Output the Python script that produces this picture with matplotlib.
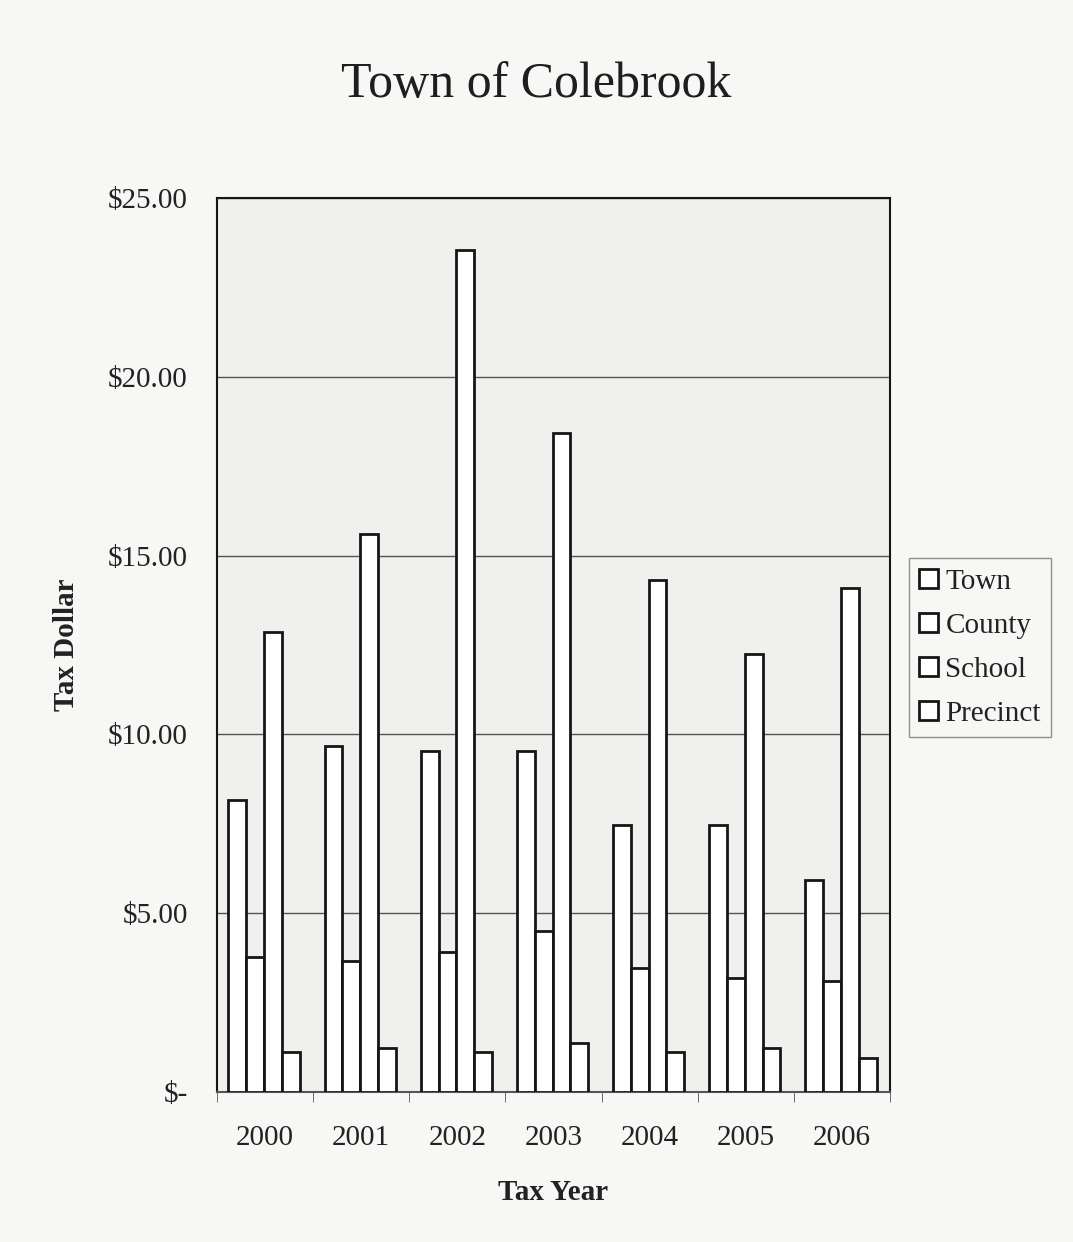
import numpy as np
import matplotlib.pyplot as plt
from matplotlib.ticker import FuncFormatter, FixedLocator

years = ['2000', '2001', '2002', '2003', '2004', '2005', '2006']
town = [8.17, 9.68, 9.54, 9.54, 7.47, 7.47, 5.93]
county = [3.78, 3.66, 3.91, 4.50, 3.47, 3.19, 3.10]
school = [12.86, 15.60, 23.55, 18.43, 14.32, 12.25, 14.09]
precinct = [1.12, 1.23, 1.12, 1.37, 1.12, 1.23, 0.95]

plt.rcParams['font.family'] = ['Liberation Serif', 'DejaVu Serif']

fig = plt.figure(figsize=(10.73, 12.42), dpi=100, facecolor='#f7f7f5')
ax = fig.add_axes([0.2022, 0.1208, 0.6273, 0.7198])
ax.set_facecolor('#f0f0ef')

x = np.arange(len(years))
w = 0.185
series = [('Town', town), ('County', county), ('School', school), ('Precinct', precinct)]
for i, (name, vals) in enumerate(series):
    ax.bar(x + (i - 1.5) * w - 0.01, vals, w, color='white', edgecolor='#1a1414',
           linewidth=2, label=name, zorder=3)

ax.set_xlim(-0.5, len(years) - 0.5)
ax.set_ylim(0, 25)
ax.set_yticks([0, 5, 10, 15, 20, 25])
ax.yaxis.set_major_formatter(FuncFormatter(lambda v, p: '$-' if v == 0 else '${:.2f}'.format(v)))
ax.yaxis.grid(True, color='#555555', linewidth=1, zorder=1)
ax.set_xticks(x)
ax.set_xticklabels(years)
ax.xaxis.set_minor_locator(FixedLocator(np.arange(-0.5, len(years), 1)))
ax.tick_params(axis='x', which='major', length=0, pad=24, labelsize=21, colors='#222222')
ax.tick_params(axis='x', which='minor', length=7, color='#555555')
ax.tick_params(axis='y', length=0, pad=21, labelsize=21, colors='#222222')

for s in ax.spines.values():
    s.set_color('#1a1414')
    s.set_linewidth(1.5)
ax.spines['bottom'].set_color('#555555')

ax.set_xlabel('Tax Year', fontsize=21, fontweight='bold', labelpad=20, color='#222222')
ax.set_ylabel('Tax Dollar', fontsize=21, fontweight='bold', labelpad=20, color='#222222')
fig.text(0.5, 0.932, 'Town of Colebrook', ha='center', va='center', fontsize=36, color='#1e1e1e')

leg = ax.legend(loc='center left', bbox_to_anchor=(1.028, 0.497), fontsize=21, frameon=True,
                fancybox=False, edgecolor='#777777', facecolor='#f7f7f5',
                handlelength=0.65, handleheight=0.65, handletextpad=0.25,
                labelspacing=0.62, borderpad=0.35, borderaxespad=0)
leg.get_frame().set_linewidth(1)
for t in leg.get_texts():
    t.set_color('#222222')

fig.savefig('out.png', dpi=100, facecolor=fig.get_facecolor())
